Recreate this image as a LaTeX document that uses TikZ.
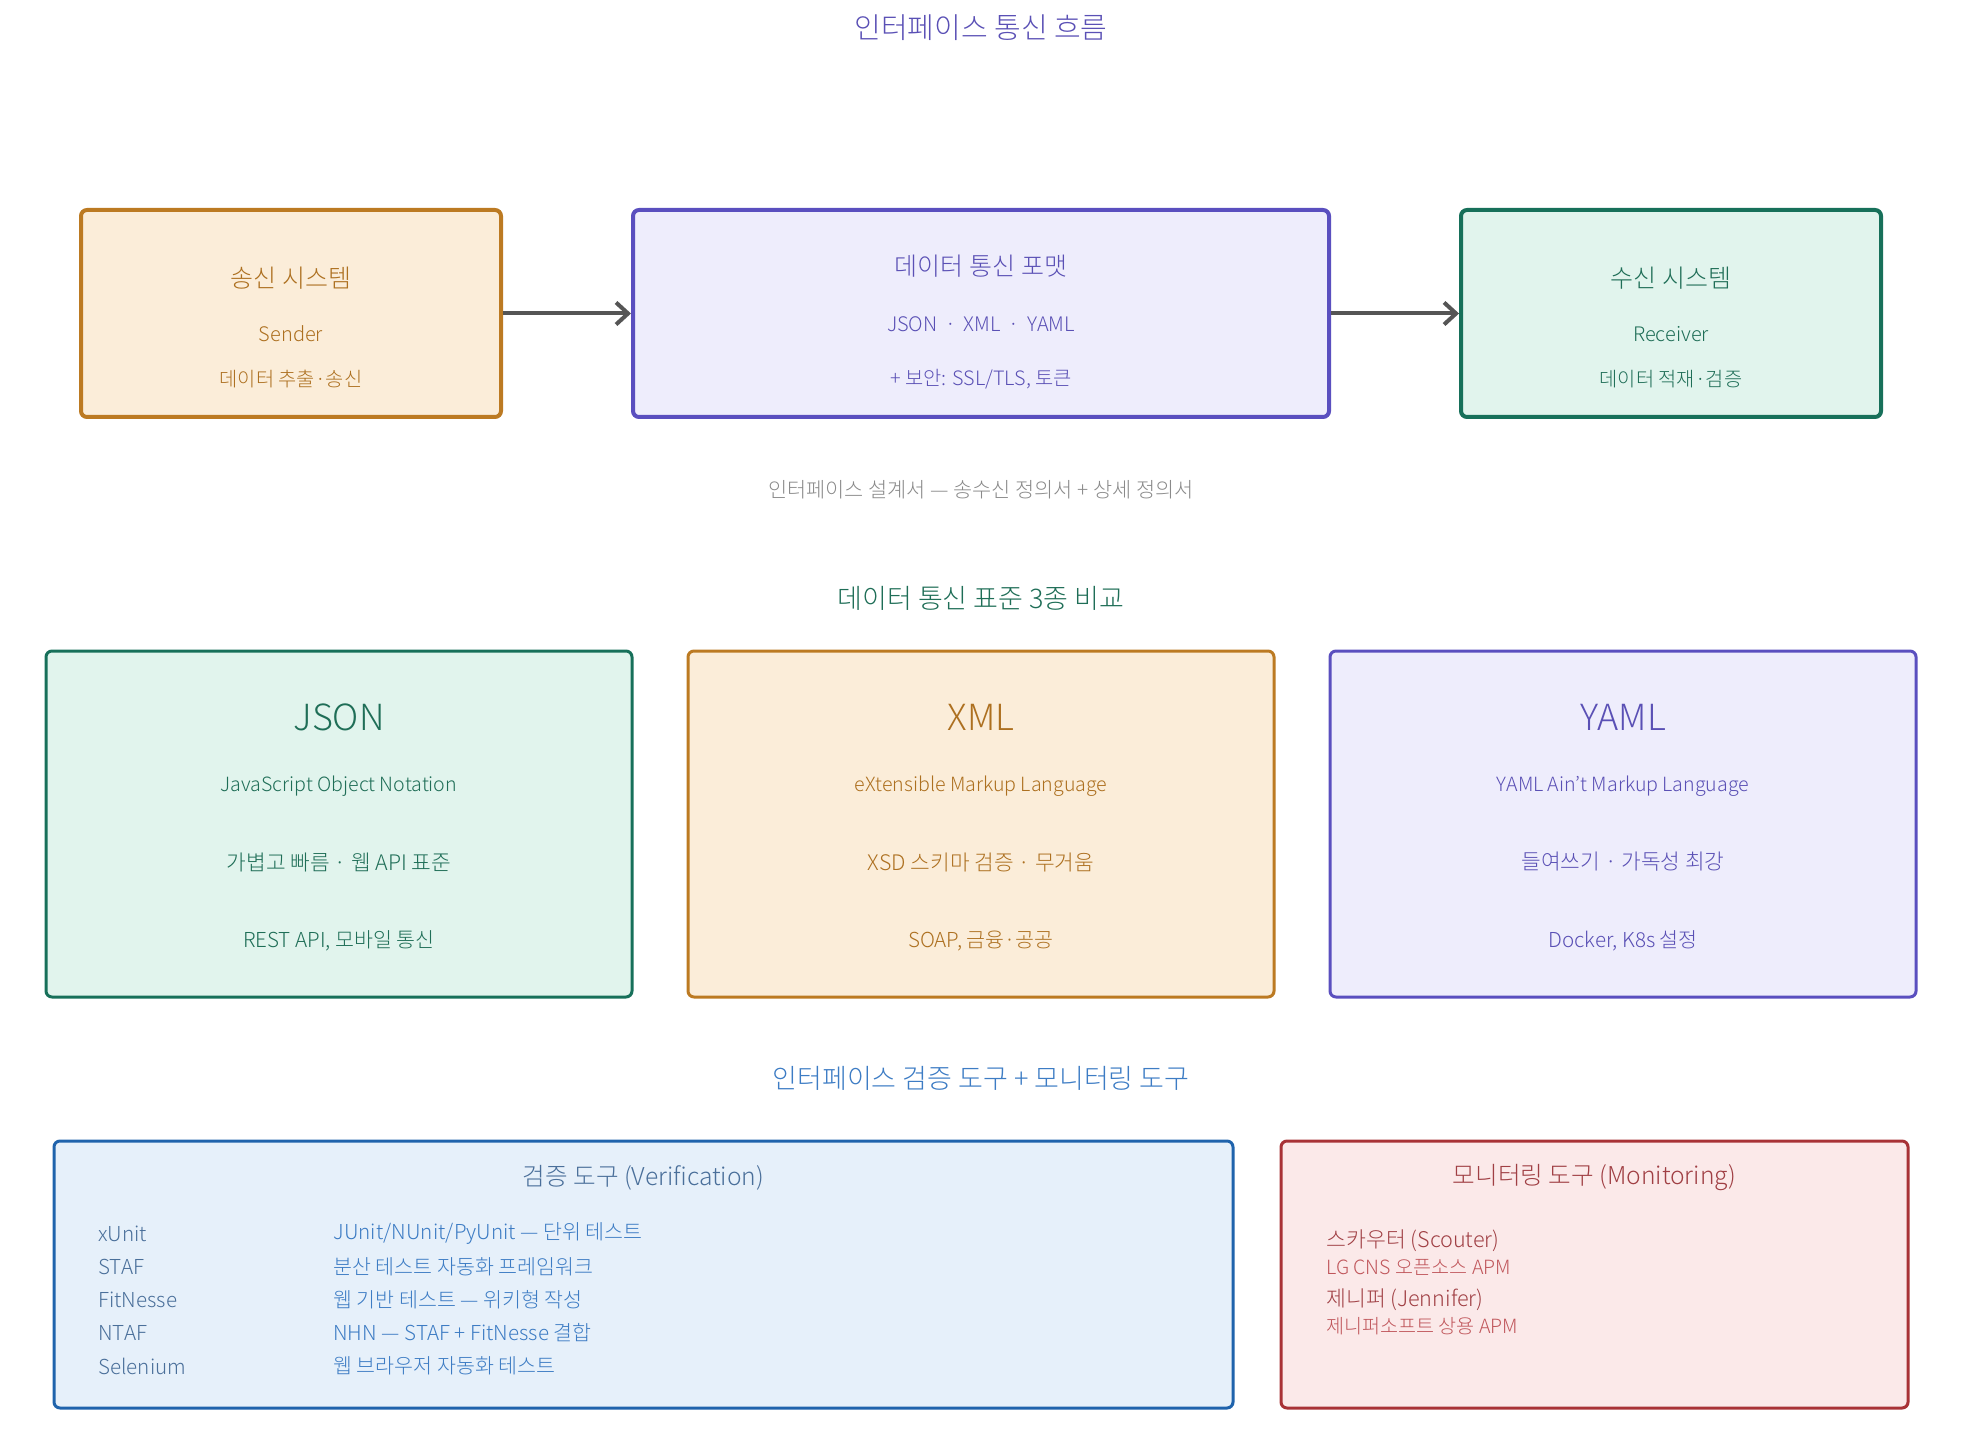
\documentclass[tikz,border=0pt]{standalone}
\usepackage{fontspec}
\IfFontExistsTF{Noto Sans CJK KR Light}{\setmainfont{Noto Sans CJK KR Light}}{\setmainfont{Noto Sans CJK KR}}
\usetikzlibrary{arrows.meta}
\definecolor{orB}{HTML}{BC7A22}\definecolor{orF}{HTML}{FBEDD9}\definecolor{orT}{HTML}{AD7020}
\definecolor{puB}{HTML}{5A4FBF}\definecolor{puF}{HTML}{EEEDFC}\definecolor{puT}{HTML}{5A50B5}
\definecolor{grB}{HTML}{17705A}\definecolor{grF}{HTML}{E1F4ED}\definecolor{grT}{HTML}{1F6E57}
\definecolor{blB}{HTML}{1F63AC}\definecolor{blF}{HTML}{E6F0FA}\definecolor{blT}{HTML}{3D7CC4}\definecolor{blL}{HTML}{4A6F9A}
\definecolor{rdB}{HTML}{A83236}\definecolor{rdF}{HTML}{FBE9E9}\definecolor{rdT}{HTML}{A03F44}\definecolor{rdS}{HTML}{C0565B}
\definecolor{arC}{HTML}{555555}\definecolor{capC}{HTML}{8A8A8A}
\tikzset{
  box/.style={draw, line width=2pt, rounded corners=3pt, minimum height=103.5pt, inner sep=0pt},
  bigbox/.style={draw, line width=1.5pt, rounded corners=3pt, minimum width=293pt, minimum height=173pt, inner sep=0pt},
  toolbox/.style={draw, line width=1.5pt, rounded corners=3pt, minimum height=133.5pt, inner sep=0pt},
  sectitle/.style={font=\fontsize{13.5}{16}\selectfont, inner sep=0pt},
  btitle/.style={font=\fontsize{12.5}{14}\selectfont, inner sep=0pt},
  ttitle/.style={font=\fontsize{12.3}{14}\selectfont, inner sep=0pt},
  bsub/.style={font=\fontsize{10}{12}\selectfont, inner sep=0pt},
  bsmall/.style={font=\fontsize{9.9}{11}\selectfont, inner sep=0pt},
  capst/.style={font=\fontsize{10.4}{12}\selectfont, inner sep=0pt},
  fmttitle/.style={font=\fontsize{18}{20}\selectfont, inner sep=0pt},
  fmtlat/.style={font=\fontsize{9.8}{12}\selectfont, inner sep=0pt},
  fmtko/.style={font=\fontsize{10.7}{12}\selectfont, inner sep=0pt},
  fmtmix/.style={font=\fontsize{10.3}{12}\selectfont, inner sep=0pt},
  row/.style={font=\fontsize{10.3}{12}\selectfont, inner sep=0pt, anchor=west},
  mrow/.style={font=\fontsize{10.8}{12}\selectfont, inner sep=0pt, anchor=west},
  msub/.style={font=\fontsize{9.8}{11}\selectfont, inner sep=0pt, anchor=west},
  arr/.style={draw=arC, line width=2pt, -{Straight Barb[length=6pt,width=11pt,line width=2pt]}},
}
\begin{document}
\begin{tikzpicture}[x=0.5pt,y=-0.5pt]
\useasboundingbox (0,0) rectangle (1962,1454);
% Section 1
\node[font=\fontsize{14.5}{16}\selectfont, inner sep=0pt, text=puT] (t1) at (981,28) {인터페이스 통신 흐름};
\node[box, draw=orB, fill=orF, minimum width=210pt] (snd) at (291,313.5) {};
\node[box, draw=puB, fill=puF, minimum width=348pt] (fmt) at (981,313.5) {};
\node[box, draw=grB, fill=grF, minimum width=210pt] (rcv) at (1671,313.5) {};
\node[btitle, text=orT] (snd1) at (291,278) {송신 시스템};
\node[bsub, text=orT] (snd2) at (291,334) {Sender};
\node[bsmall, text=orT] (snd3) at (291,379) {데이터 추출·송신};
\node[btitle, text=puT] (fmt1) at (981,266) {데이터 통신 포맷};
\node[bsub, text=puT] (fmt2) at (981,324) {JSON \,·\, XML \,·\, YAML};
\node[bsmall, text=puT] (fmt3) at (981,379) {+ 보안: SSL/TLS, 토큰};
\node[btitle, text=grT] (rcv1) at (1671,278) {수신 시스템};
\node[bsub, text=grT] (rcv2) at (1671,334) {Receiver};
\node[bsmall, text=grT] (rcv3) at (1671,379) {데이터 적재·검증};
\draw[arr] (snd.east) -- (fmt.west);
\draw[arr] (fmt.east) -- (rcv.west);
\node[capst, text=capC] (cap) at (981,490) {인터페이스 설계서 — 송수신 정의서 + 상세 정의서};
% Section 2
\node[sectitle, text=grT] (t2) at (981,598) {데이터 통신 표준 3종 비교};
\node[bigbox, draw=grB, fill=grF] (json) at (339,824) {};
\node[bigbox, draw=orB, fill=orF] (xml) at (981,824) {};
\node[bigbox, draw=puB, fill=puF] (yaml) at (1623,824) {};
\node[fmttitle, text=grT] (json1) at (339,717) {JSON};
\node[fmtlat, text=grT] (json2) at (339,786) {JavaScript Object Notation};
\node[fmtko, text=grT] (json3) at (339,862) {가볍고 빠름 · 웹 API 표준};
\node[fmtmix, text=grT] (json4) at (339,941) {REST API, 모바일 통신};
\node[fmttitle, text=orT] (xml1) at (981,717) {XML};
\node[fmtlat, text=orT] (xml2) at (981,786) {eXtensible Markup Language};
\node[fmtko, text=orT] (xml3) at (981,862) {XSD 스키마 검증 · 무거움};
\node[fmtmix, text=orT] (xml4) at (981,941) {SOAP, 금융·공공};
\node[fmttitle, text=puT] (yaml1) at (1623,717) {YAML};
\node[fmtlat, text=puT] (yaml2) at (1623,786) {YAML Ain't Markup Language};
\node[fmtko, text=puT] (yaml3) at (1623,862) {들여쓰기 · 가독성 최강};
\node[fmtmix, text=puT] (yaml4) at (1623,941) {Docker, K8s 설정};
% Section 3
\node[sectitle, text=blT] (t3) at (981,1078) {인터페이스 검증 도구 + 모니터링 도구};
\node[toolbox, draw=blB, fill=blF, minimum width=589.5pt] (ver) at (643.5,1274.5) {};
\node[toolbox, draw=rdB, fill=rdF, minimum width=313.5pt] (mon) at (1594.5,1274.5) {};
\node[ttitle, text=blL] (ver0) at (643.5,1178) {검증 도구 (Verification)};
\node[row, text=blL] (l1) at (98,1234) {xUnit};
\node[row, text=blL] (l2) at (98,1267) {STAF};
\node[row, text=blL] (l3) at (98,1300) {FitNesse};
\node[row, text=blL] (l4) at (98,1333) {NTAF};
\node[row, text=blL] (l5) at (98,1366) {Selenium};
\node[row, text=blT] (d1) at (333,1234) {JUnit/NUnit/PyUnit — 단위 테스트};
\node[row, text=blT] (d2) at (333,1267) {분산 테스트 자동화 프레임워크};
\node[row, text=blT] (d3) at (333,1300) {웹 기반 테스트 — 위키형 작성};
\node[row, text=blT] (d4) at (333,1333) {NHN — STAF + FitNesse 결합};
\node[row, text=blT] (d5) at (333,1366) {웹 브라우저 자동화 테스트};
\node[ttitle, text=rdT] (mon0) at (1594.5,1178) {모니터링 도구 (Monitoring)};
\node[mrow, text=rdT] (m1) at (1326,1241) {스카우터 (Scouter)};
\node[msub, text=rdS] (m2) at (1326,1267) {LG CNS 오픈소스 APM};
\node[mrow, text=rdT] (m3) at (1326,1300) {제니퍼 (Jennifer)};
\node[msub, text=rdS] (m4) at (1326,1326) {제니퍼소프트 상용 APM};
\end{tikzpicture}
\end{document}
